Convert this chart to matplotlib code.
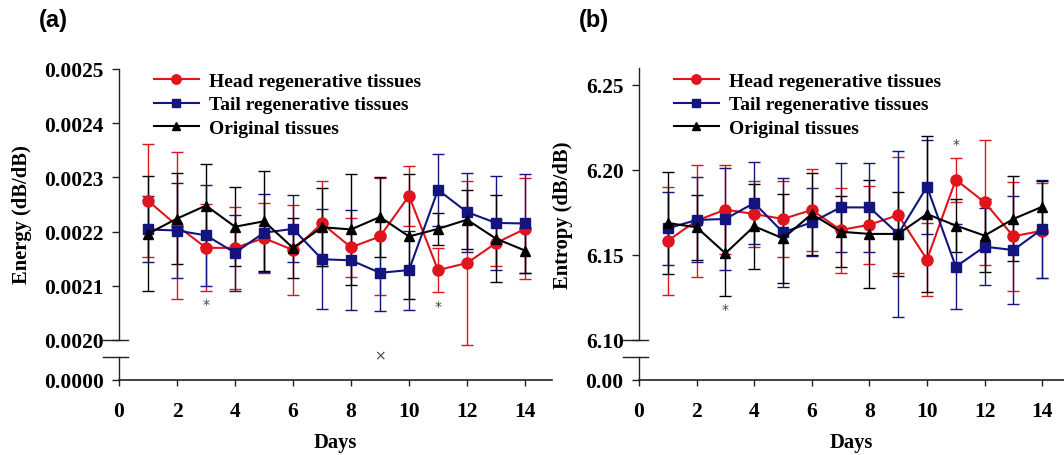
import matplotlib
matplotlib.use("Agg")
import matplotlib.pyplot as plt
from matplotlib.lines import Line2D

days = list(range(1, 15))

# Energy (panel a)
head_e = [0.002257, 0.002211, 0.002170, 0.002170, 0.002188, 0.002166, 0.002215,
          0.002171, 0.002191, 0.002266, 0.002129, 0.002142, 0.002179, 0.002205]
head_e_sd = [0.000104, 0.000136, 0.000080, 0.000076, 0.000064, 0.000083, 0.000078,
             0.000054, 0.000108, 0.000055, 0.000041, 0.000152, 0.000043, 0.000093]
tail_e = [0.002204, 0.002202, 0.002193, 0.002161, 0.002198, 0.002205, 0.002149,
          0.002147, 0.002124, 0.002129, 0.002277, 0.002236, 0.002216, 0.002215]
tail_e_sd = [0.000061, 0.000087, 0.000093, 0.000070, 0.000072, 0.000062, 0.000092,
             0.000092, 0.000070, 0.000073, 0.000066, 0.000073, 0.000087, 0.000092]
orig_e = [0.002196, 0.002224, 0.002248, 0.002209, 0.002219, 0.002170, 0.002208,
          0.002204, 0.002227, 0.002191, 0.002205, 0.002222, 0.002187, 0.002165]
orig_e_sd = [0.000106, 0.000084, 0.000077, 0.000073, 0.000092, 0.000055, 0.000072,
             0.000103, 0.000073, 0.000116, 0.000030, 0.000055, 0.000080, 0.000042]

# Entropy (panel b)
head_s = [6.1584, 6.1702, 6.1767, 6.1741, 6.1712, 6.1765, 6.1647,
          6.1678, 6.1735, 6.1473, 6.1943, 6.1810, 6.1610, 6.1643]
head_s_sd = [0.0318, 0.0330, 0.0260, 0.0196, 0.0225, 0.0240, 0.0250,
             0.0230, 0.0340, 0.0216, 0.0130, 0.0369, 0.0320, 0.0280]
tail_s = [6.1657, 6.1706, 6.1712, 6.1806, 6.1633, 6.1692, 6.1780,
          6.1780, 6.1624, 6.1902, 6.1431, 6.1549, 6.1529, 6.1653]
tail_s_sd = [0.0213, 0.0250, 0.0300, 0.0240, 0.0320, 0.0200, 0.0260,
             0.0260, 0.0490, 0.0276, 0.0250, 0.0225, 0.0320, 0.0290]
orig_s = [6.1688, 6.1663, 6.1510, 6.1669, 6.1598, 6.1741, 6.1637,
          6.1624, 6.1624, 6.1741, 6.1673, 6.1614, 6.1712, 6.1784]
orig_s_sd = [0.0300, 0.0190, 0.0250, 0.0250, 0.0260, 0.0240, 0.0210,
             0.0320, 0.0245, 0.0460, 0.0157, 0.0216, 0.0250, 0.0153]

series_labels = ["Head regenerative tissues", "Tail regenerative tissues", "Original tissues"]
colors = ["#e0141c", "#14147f", "#000000"]
markers = ["o", "s", "^"]
msizes = [8, 6.5, 7.5]

xticks = [0, 2, 4, 6, 8, 10, 12, 14]
yticks_a = [0.0020, 0.0021, 0.0022, 0.0023, 0.0024, 0.0025]
yticks_b = [6.10, 6.15, 6.20, 6.25]

# significance marks: (day, value, symbol)
marks_a = [(3, 0.002066, "*"), (11, 0.002062, "*"), (9, 0.001971, "\u00d7")]
marks_b = [(3, 6.118, "*"), (11, 6.215, "*")]

W, H = 1064, 456
fig = plt.figure(figsize=(W / 100, H / 100), dpi=100)
fig.patch.set_facecolor("white")

SERIF = "Liberation Serif"
FS = 14
LFS = 14.8
TFS = 15.5


def fx(px):
    return px / W


def fy(py):
    return 1 - py / H


def make_panel(x0, x1, ytop, ybrk_top, ybrk_bot, ybot, xmax, ylim, yticks, yfmt,
               data, ylabel, ylabel_x, marks, panel_label, plx):
    axu = fig.add_axes([fx(x0), fy(ybrk_top), fx(x1 - x0), (ybrk_top - ytop) / H])
    axl = fig.add_axes([fx(x0), fy(ybot), fx(x1 - x0), (ybot - ybrk_bot) / H])
    for ax in (axu, axl):
        ax.set_facecolor("none")
        ax.set_xlim(0, xmax)
        for s in ("top", "right"):
            ax.spines[s].set_visible(False)
        ax.spines["left"].set_linewidth(1.0)
        ax.spines["left"].set_color("#222222")
    axu.spines["bottom"].set_visible(False)
    axu.tick_params(axis="x", which="both", bottom=False, labelbottom=False)
    axu.set_ylim(*ylim)
    axu.set_yticks(yticks)
    axu.set_yticklabels([yfmt.format(v) for v in yticks], fontfamily=SERIF,
                        fontweight="bold", fontsize=TFS)
    axu.tick_params(axis="y", direction="out", length=5, width=1, pad=6, color="#222222")

    axl.set_ylim(0, 1)
    axl.set_yticks([0])
    axl.set_yticklabels([yfmt.format(0)], fontfamily=SERIF, fontweight="bold", fontsize=TFS)
    axl.tick_params(axis="y", direction="out", length=5, width=1, pad=6, color="#222222")
    axl.spines["bottom"].set_linewidth(1.2)
    axl.spines["bottom"].set_color("#222222")
    axl.set_xticks(xticks)
    axl.set_xticklabels([str(t) for t in xticks], fontfamily=SERIF, fontweight="bold",
                        fontsize=TFS)
    axl.tick_params(axis="x", direction="out", length=4, width=1, pad=11, color="#222222")

    handles = []
    for (vals, sds), lab, c, m, ms in zip(data, series_labels, colors, markers, msizes):
        axu.errorbar(days, vals, yerr=sds, color=c, ecolor=c, elinewidth=1.0,
                     capsize=4, capthick=1.0, lw=1.5, marker=m, markersize=ms,
                     markeredgecolor=c, markerfacecolor=c, clip_on=False)
        handles.append(Line2D([], [], color=c, lw=1.5, marker=m, markersize=ms * 0.85,
                              markerfacecolor=c, markeredgecolor=c))
    fig.legend(handles, series_labels, loc="upper left",
               bbox_to_anchor=(fx(x0 + 35), fy(73)), frameon=False,
               prop={"family": SERIF, "weight": "bold", "size": FS},
               handlelength=2.3, handletextpad=0.55, labelspacing=0.32,
               borderpad=0, borderaxespad=0)

    for d, v, s in marks:
        axu.text(d, v, s, ha="center", va="center", fontsize=10, color="#444444",
                 clip_on=False, fontfamily="DejaVu Sans")

    # axis break marks
    for yy in (ybrk_top, ybrk_bot):
        fig.add_artist(Line2D([fx(x0 - 16), fx(x0 + 9)], [fy(yy), fy(yy)],
                              color="#222222", lw=1.0))

    fig.text(fx(ylabel_x), fy(215), ylabel, rotation=90, ha="center", va="center",
             fontfamily=SERIF, fontweight="bold", fontsize=LFS)
    fig.text(fx((x0 + min(x1, 1063)) / 2), fy(443), "Days",
             ha="center", va="center", fontfamily=SERIF, fontweight="bold", fontsize=LFS)
    fig.text(fx(plx), fy(21), panel_label, ha="center", va="center",
             fontfamily="Liberation Sans", fontweight="bold", fontsize=17)
    return axu, axl


make_panel(119, 552, 70, 341, 358, 381, (552 - 119) / 29.0, (0.0020, 0.0025),
           yticks_a, "{:.4f}",
           [(head_e, head_e_sd), (tail_e, tail_e_sd), (orig_e, orig_e_sd)],
           "Energy (dB/dB)", 22, marks_a, "(a)", 53)

make_panel(639, 1064, 69, 341, 358, 381, (1064 - 639) / 28.8, (6.10, 6.26),
           yticks_b, "{:.2f}",
           [(head_s, head_s_sd), (tail_s, tail_s_sd), (orig_s, orig_s_sd)],
           "Entropy (dB/dB)", 563, marks_b, "(b)", 594)

fig.savefig("out.png", dpi=100, facecolor="white")
